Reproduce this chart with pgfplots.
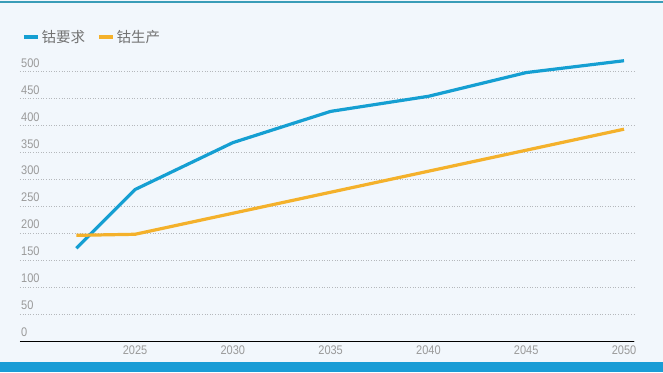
\documentclass[border=0pt]{standalone}
\usepackage{pgfplots}
\pgfplotsset{compat=1.18}
\usepackage{fontspec}
\setmainfont{Liberation Sans}
\newfontfamily\narrow[FakeStretch=0.88]{Liberation Sans}
\newfontfamily\cjk{Noto Sans CJK SC}
\definecolor{bgc}{HTML}{F2F7FC}
\definecolor{demand}{HTML}{159FD2}
\definecolor{prod}{HTML}{F4B12B}
\definecolor{band}{HTML}{1A9DD6}
\definecolor{topl}{HTML}{3A9DB8}
\definecolor{tickc}{HTML}{9A9A9A}
\definecolor{gridc}{HTML}{B5B8BC}
\begin{document}
\begin{tikzpicture}
\useasboundingbox (-20pt,-31pt) rectangle (643pt,341pt);
\fill[bgc] (-20pt,-31pt) rectangle (643pt,341pt);
\fill[band] (-20pt,-31pt) rectangle (643pt,-21pt);
\draw[topl, line width=1.2pt] (-20pt,339pt) -- (643pt,339pt);
\begin{axis}[
  at={(0,0)}, anchor=south west,
  scale only axis, width=614pt, height=269.5pt,
  xmin=2019.12, xmax=2050.51, ymin=0, ymax=500,
  xtick={2025,2030,2035,2040,2045,2050},
  ytick={0,50,100,150,200,250,300,350,400,450,500},
  xticklabel style={/pgf/number format/1000 sep={}},
  /pgf/number format/assume math mode=true,
  tick label style={font=\narrow\fontsize{12.5}{14}\selectfont, text=tickc},
  major tick length=0pt,
  axis x line*=bottom, axis y line*=left,
  y axis line style={draw=none},
  x axis line style={-, black, line width=0.8pt},
  ymajorgrids, grid style={dash pattern=on 0.8pt off 1.8pt, gridc, line width=0.6pt},
  yticklabel style={anchor=south west, xshift=1pt, yshift=4pt, inner sep=0pt},
  yticklabel pos=left,
  xticklabel style={yshift=-1pt},
  legend style={at={(0,1)}, anchor=west, xshift=2pt, yshift=34.5pt, draw=none, fill=none, inner sep=0pt,
    font=\cjk\fontsize{14.5}{15}\selectfont, text=gray!90!black,
    /tikz/every even column/.append style={column sep=10pt}},
  legend columns=2,
  legend cell align=left,
  legend image code/.code={\draw[#1, line width=3.5pt] (0pt,0pt) -- (14pt,0pt);},
  clip=false,
]
\addplot[demand, line width=3.2pt, line join=round] coordinates {
(2022,172) (2025,281) (2030,368) (2035,426) (2040,454) (2045,498) (2050,520)};
\addlegendentry{钴要求}
\addplot[prod, line width=3.2pt, line join=round] coordinates {
(2022,196) (2025,198) (2030,237) (2035,276) (2040,315) (2045,354) (2050,393)};
\addlegendentry{钴生产}
\end{axis}
\end{tikzpicture}
\end{document}
